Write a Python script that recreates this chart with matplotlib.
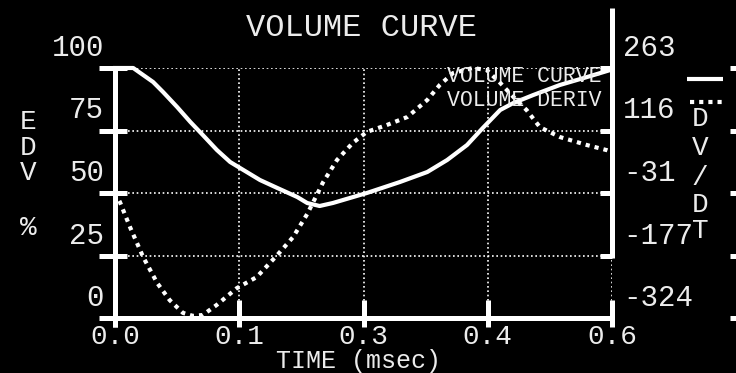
import matplotlib
matplotlib.use("Agg")
from matplotlib import pyplot as plt
from matplotlib.lines import Line2D

# volume curve, % of EDV
vol_t = [0.0, 0.022, 0.034, 0.046, 0.058, 0.075, 0.091, 0.106, 0.123, 0.139,
         0.155, 0.175, 0.196, 0.220, 0.232, 0.247, 0.263, 0.304, 0.344, 0.377,
         0.401, 0.425, 0.444, 0.465, 0.481, 0.505, 0.537, 0.570, 0.598, 0.6]
vol = [100, 100, 97.2, 94.4, 90.4, 84.4, 78.4, 73.2, 67.2, 62.4,
       59.2, 55.2, 52, 48.4, 46, 44.8, 46, 50, 54.4, 58.4,
       63.2, 69.2, 76, 83.2, 86, 89.2, 93.2, 96.4, 99.2, 99.4]

# volume derivative, dV/dt
der_t = [0.0, 0.006, 0.018, 0.034, 0.051, 0.066, 0.082, 0.094, 0.106, 0.123,
         0.147, 0.171, 0.196, 0.215, 0.232, 0.239, 0.251, 0.268, 0.287, 0.304,
         0.328, 0.353, 0.377, 0.392, 0.408, 0.432, 0.449, 0.465, 0.481, 0.497,
         0.513, 0.537, 0.570, 0.594, 0.6]
der = [-30, -52, -110, -181, -242, -282, -312, -319, -317, -293,
       -254, -228, -176, -134, -80, -53, -6, 47, 87, 113,
       129, 148, 188, 223, 251, 263, 258, 228, 195, 164,
       124, 101, 82, 70, 66]

x_ticks = [0.0, 0.15, 0.3, 0.45, 0.6]
x_labels = ["0.0", "0.1", "0.3", "0.4", "0.6"]
left_ticks = [100, 75, 50, 25, 0]
left_labels = ["100", "75", "50", "25", "0"]
right_ticks = [263, 116.25, -30.5, -177.25, -324]
right_labels = ["263", "116", "-31", "-177", "-324"]

W, H = 736, 373
FONT = "Liberation Mono"
FG = "white"
TXT = "#ececec"

fig = plt.figure(figsize=(W / 100, H / 100), dpi=100, facecolor="black")
ax = fig.add_axes([115 / W, 1 - 318 / H, 497 / W, 250 / H])
ax.set_facecolor("black")
ax.set_xlim(0, 0.6)
ax.set_ylim(0, 100)
ax2 = ax.twinx()
ax2.set_ylim(-324, 263)
for a in (ax, ax2):
    for s in a.spines.values():
        s.set_visible(False)
    a.set_xticks([])
    a.set_yticks([])


def px(a, x, y):
    X, Y = a.transData.transform((x, y))
    return X, H - Y


def seg(x0, y0, x1, y1, lw=3.6, ls="-"):
    fig.add_artist(Line2D([x0 / W, x1 / W], [1 - y0 / H, 1 - y1 / H],
                          transform=fig.transFigure, color=FG, lw=lw,
                          linestyle=ls, solid_capstyle="butt"))


def txt(x, y, s, size=21, ha="center", va="center"):
    fig.text(x / W, 1 - y / H, s, color=TXT, fontsize=size, family=FONT,
             ha=ha, va=va)


# dotted grid
for v in left_ticks[:-1]:
    ax.axhline(v, color=FG, lw=1.2, linestyle=(0, (1, 1.6)), zorder=1)
for t in x_ticks[1:]:
    ax.axvline(t, color=FG, lw=1.2, linestyle=(0, (1, 1.6)), zorder=1)

# data
ax.plot(vol_t, vol, color=FG, lw=3, clip_on=False, zorder=3,
        solid_joinstyle="round")
ax2.plot(der_t, der, color=FG, lw=3, linestyle=(0, (1, 1.2)),
         clip_on=False, zorder=3)

# axes lines and ticks
x0, y0 = px(ax, 0, 0)
x1, y1 = px(ax, 0.6, 100)
seg(x0, y1, x0, y0 + 9)
seg(x0 - 16, y0, x1 + 2, y0)
seg(x1, 8, x1, px(ax, 0, 25)[1] + 2)
for v, lab in zip(left_ticks, left_labels):
    yy = px(ax, 0, v)[1]
    if v > 0:
        seg(x0 - 16, yy, x0 + 12, yy)
        seg(x1 - 12, yy, x1, yy)
    seg(730, yy, 740, yy)
    txt(104, yy - 20, lab, ha="right")
for v, lab in zip(right_ticks, right_labels):
    yy = px(ax2, 0, v)[1]
    txt(623, yy - 20, lab, ha="left")
for t, lab in zip(x_ticks, x_labels):
    xx = px(ax, t, 0)[0]
    seg(xx, y0 - 18, xx, y0 + 9)
    txt(xx, 337, lab, size=20)

# titles and labels
txt(362, 28, "VOLUME CURVE", size=23)
txt(358, 361, "TIME (msec)", size=18)
for ch, yy in zip("EDV%", [122, 148, 173, 228]):
    txt(28, yy, ch, size=20)
for ch, yy in zip("DV/DT", [119, 148, 178, 205, 231]):
    txt(700, yy, ch, size=20)

# legend
txt(447, 76, "VOLUME CURVE", size=15.5, ha="left")
txt(447, 101, "VOLUME DERIV", size=15.5, ha="left")
seg(687, 79, 723, 79, lw=3)
seg(690, 102, 723, 102, lw=3, ls=(0, (1, 1.2)))

fig.savefig("out.png", dpi=100, facecolor="black")
